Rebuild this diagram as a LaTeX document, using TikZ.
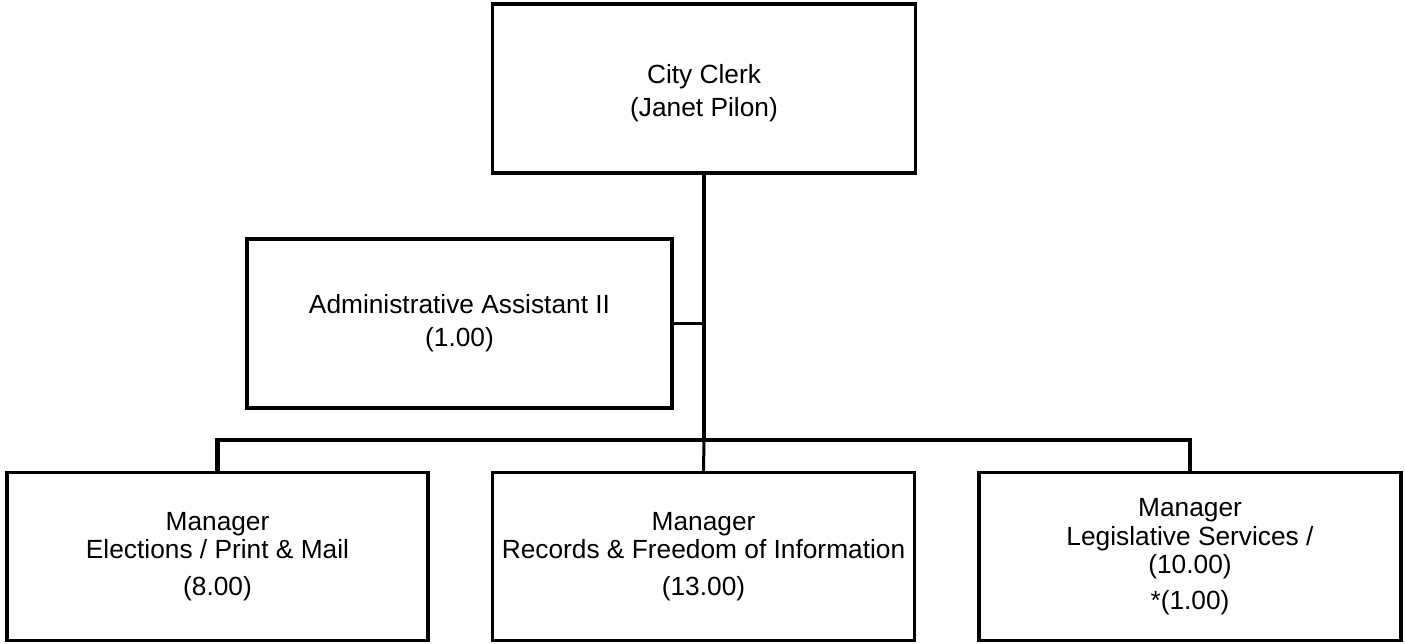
\documentclass[tikz,border=0pt]{standalone}
\usepackage{fontspec}
\setmainfont{Liberation Sans}
\begin{document}
\begin{tikzpicture}[x=1pt,y=-1pt,
  box/.style={draw,line width=3.5pt,rectangle,inner sep=0pt,align=center,
    minimum width=423pt,minimum height=168pt,font=\fontsize{26.3}{28.5}\selectfont},
  wire/.style={line width=4.2pt},
  thinwire/.style={line width=3pt}]
\useasboundingbox (0,0) rectangle (1405,643);
\node[box,minimum height=169pt,font=\fontsize{26.3}{33}\selectfont] (clerk) at (704,88.5) {\rule{0pt}{28pt}City Clerk\\(Janet Pilon)};
\node[box,minimum width=425pt,minimum height=169pt,font=\fontsize{26.3}{33}\selectfont] (admin) at (459.5,323.5) {Administrative Assistant II\\(1.00)};
\node[box,minimum width=421pt] (left) at (217.5,556.5) {Manager\\Elections / Print \& Mail\\[8.5pt](8.00)};
\node[box,minimum width=422pt] (mid) at (703.5,556.5) {Manager\\Records \& Freedom of Information\\[8.5pt](13.00)};
\node[box,minimum width=422pt] (right) at (1190,556.5) {Manager\\Legislative Services /\\(10.00)\\[7pt]*(1.00)};
\coordinate (bus) at (704,440);
\draw[wire] (clerk.south) -- (clerk.south |- bus);
\draw[thinwire] (clerk.south |- bus) -- (mid.north);
\draw[wire] (left.north) -- (left.north |- bus) -- (right.north |- bus) -- (right.north);
\draw[thinwire] (admin.east) -- (admin.east -| clerk.south);
\end{tikzpicture}
\end{document}
